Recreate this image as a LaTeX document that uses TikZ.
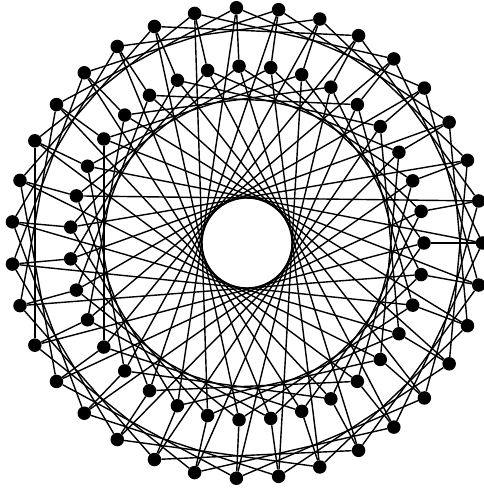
\documentclass[tikz,border=0pt]{standalone}
\begin{document}
\begin{tikzpicture}[x=1pt,y=1pt,
  vertex/.style={circle,fill=black,inner sep=0pt,minimum size=13.5pt},
  edge/.style={line width=1.4pt,black}]
\useasboundingbox (0,0) rectangle (483,488);
\foreach \i in {0,...,34} {
  \node[vertex] (o\i) at ({247+235.5*cos(360*\i/35)},{245+235.5*sin(360*\i/35)}) {};
  \node[vertex] (n\i) at ({247+177*cos(360*\i/35)},{245+177*sin(360*\i/35)}) {};
}
\foreach \i in {0,...,34} {
  \pgfmathtruncatemacro\a{mod(\i+5,35)}
  \pgfmathtruncatemacro\b{mod(\i+7,35)}
  \pgfmathtruncatemacro\c{mod(\i+15,35)}
  \draw[edge] (o\i) -- (n\i);
  \draw[edge] (o\i) -- (o\a);
  \draw[edge] (n\i) -- (n\b);
  \draw[edge] (o\i) -- (n\c);
}
\end{tikzpicture}
\end{document}
